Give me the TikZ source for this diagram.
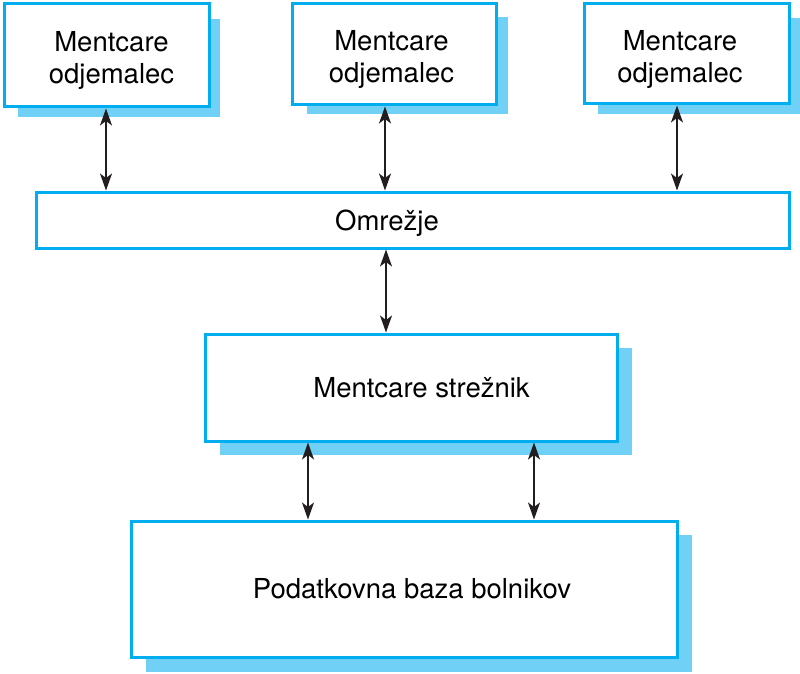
\documentclass[tikz,border=0pt]{standalone}
\usepackage{fontspec}
\setmainfont{TeX Gyre Heros}
\usetikzlibrary{arrows.meta,calc}
\definecolor{bordc}{RGB}{0,174,239}
\definecolor{shadc}{RGB}{112,208,246}
\definecolor{arrc}{RGB}{34,30,31}
\begin{document}
\begin{tikzpicture}[x=1pt,y=-1pt,
  box/.style={draw=bordc, line width=3pt, fill=white, inner sep=0pt, rectangle},
  txt/.style={font=\fontsize{27.5}{32}\selectfont, align=center, text=black, inner sep=0pt},
  tipA/.tip={Stealth[length=17pt,width=12pt,inset=4.5pt]},
  conn/.style={draw=arrc, line width=1.8pt, tipA-tipA},
  shadowfill/.style={fill=shadc}]
\useasboundingbox (0,0) rectangle (800,674);
% shadows
\fill[shadowfill] (18,19) rectangle (220,117);
\fill[shadowfill] (307,17) rectangle (508,114);
\fill[shadowfill] (598,18) rectangle (800,114);
\fill[shadowfill] (220,348) rectangle (632,455);
\fill[shadowfill] (146,535) rectangle (692,672);
% boxes
\node[box, minimum width=205pt, minimum height=103pt,
  label={[txt,xshift=5pt,yshift=-5pt]center:Mentcare\\odjemalec}] (c1) at (106.5,55.5) {};
\node[box, minimum width=204pt, minimum height=101pt,
  label={[txt,xshift=-2.5pt,yshift=-5pt]center:Mentcare\\odjemalec}] (c2) at (394,54.5) {};
\node[box, minimum width=205pt, minimum height=100pt,
  label={[txt,xshift=-6.5pt,yshift=-5pt]center:Mentcare\\odjemalec}] (c3) at (686.5,54) {};
\node[box, minimum width=753pt, minimum height=56pt,
  label={[txt,xshift=-25.5pt,yshift=-3pt]center:Omrežje}] (net) at (412.5,220) {};
\node[box, minimum width=412pt, minimum height=107pt,
  label={[txt,xshift=10.5pt,yshift=0pt]center:Mentcare strežnik}] (srv) at (411,387.5) {};
\node[box, minimum width=546pt, minimum height=136pt,
  label={[txt,xshift=8pt,yshift=0pt]center:Podatkovna baza bolnikov}] (db) at (404,589) {};
% connector x positions
\coordinate (a1) at (106,0);
\coordinate (a2) at (385,0);
\coordinate (a3) at (677,0);
\coordinate (a4) at (386,0);
\coordinate (a5) at (308,0);
\coordinate (a6) at (534,0);
\draw[conn] (c1.south -| a1) -- (net.north -| a1);
\draw[conn] (c2.south -| a2) -- (net.north -| a2);
\draw[conn] (c3.south -| a3) -- (net.north -| a3);
\draw[conn] (net.south -| a4) -- (srv.north -| a4);
\draw[conn] (srv.south -| a5) -- (db.north -| a5);
\draw[conn] (srv.south -| a6) -- (db.north -| a6);
\end{tikzpicture}
\end{document}
